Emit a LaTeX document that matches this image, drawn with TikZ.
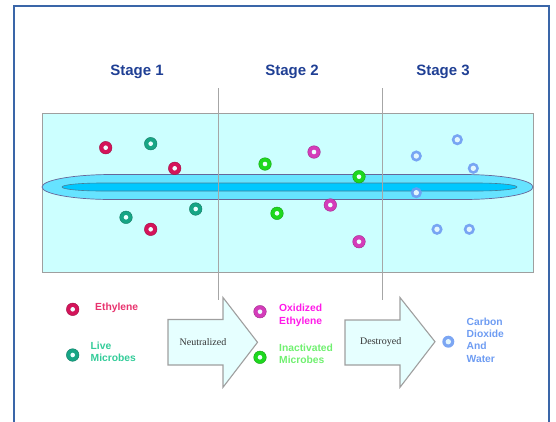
\documentclass[tikz,border=0pt]{standalone}
\usepackage{fontspec}
\setmainfont{Liberation Sans}
\newfontfamily\serifface{Liberation Serif}
\begin{document}
\begin{tikzpicture}[x=1pt,y=-1pt,
  ring/.style={circle,fill=#1,draw=#1!75!black,line width=0.4pt,minimum size=12.6pt,inner sep=0pt,
    path picture={\fill[holecol] (path picture bounding box.center) circle (2.3pt);}},
  bluering/.style={circle,fill=co2col,fill opacity=0.9,minimum size=11.2pt,inner sep=0pt,
    path picture={\fill[holecol] (path picture bounding box.center) circle (2.7pt);}},
  stagelabel/.style={font=\fontsize{15}{17}\selectfont\bfseries,text=stagecol,inner sep=0pt},
  legendtext/.style={font=\fontsize{10.3}{12.4}\selectfont\bfseries,align=left,anchor=west,inner sep=0pt},
  flowarrow/.style={fill=arrowfill,draw=gray!75,line width=1.1pt,line join=miter},
  arrowtext/.style={font=\serifface\fontsize{10}{12}\selectfont,text=black!80,inner sep=0pt},
  divider/.style={draw=gray!70,line width=0.7pt}]
\definecolor{stagecol}{HTML}{1F3F94}
\definecolor{framecol}{HTML}{3A66A8}
\definecolor{boxfill}{HTML}{CCFFFF}
\definecolor{holecol}{HTML}{EEFFFF}
\definecolor{pipeout}{HTML}{66E3FF}
\definecolor{pipein}{HTML}{00C8FF}
\definecolor{ethcol}{HTML}{D4145A}
\definecolor{ethtext}{HTML}{E8336E}
\definecolor{livecol}{HTML}{17A585}
\definecolor{livetext}{HTML}{33CC99}
\definecolor{oxcol}{HTML}{D43CBA}
\definecolor{oxtext}{HTML}{FF1AE8}
\definecolor{inactcol}{HTML}{1ED81E}
\definecolor{inacttext}{HTML}{70F070}
\definecolor{co2col}{HTML}{6E9CF2}
\definecolor{arrowfill}{HTML}{E6FFFF}

\useasboundingbox (0,0) rectangle (556,421);
\clip (0,0) rectangle (556,421);

% outer frame
\draw[framecol,line width=2pt] (14,6) rectangle (549,440);

% stage titles
\node[stagelabel] (s1) at (137,72) {Stage 1};
\node[stagelabel] (s2) at (292,72) {Stage 2};
\node[stagelabel] (s3) at (443,72) {Stage 3};

% chamber
\draw[fill=boxfill,draw=gray!75,line width=1pt] (42,113) rectangle (533,272);

% outer sleeve of the lamp
\draw[fill=pipeout,draw=gray!80!blue,line width=0.7pt]
  (42,187) .. controls (42,180.1) and (73.3,174.5) .. (112,174.5)
  -- (463,174.5) .. controls (501.7,174.5) and (533,180.1) .. (533,187)
  .. controls (533,193.9) and (501.7,199.5) .. (463,199.5)
  -- (112,199.5) .. controls (73.3,199.5) and (42,193.9) .. (42,187) -- cycle;
% inner core of the lamp
\draw[fill=pipein,draw=black!45!cyan,line width=0.6pt]
  (62,187) .. controls (62,184.8) and (79.9,183) .. (102,183)
  -- (477,183) .. controls (499.1,183) and (517,184.8) .. (517,187)
  .. controls (517,189.2) and (499.1,191) .. (477,191)
  -- (102,191) .. controls (79.9,191) and (62,189.2) .. (62,187) -- cycle;

% stage dividers
\coordinate (d1t) at (218,88);
\coordinate (d1b) at (218,300);
\coordinate (d2t) at (382,88);
\coordinate (d2b) at (382,300);
\draw[divider] (d1t) -- (d1b);
\draw[divider] (d2t) -- (d2b);

% stage 1: ethylene and live microbes
\node[ring=ethcol] (a1) at (105.7,147.7) {};
\node[ring=livecol] (a2) at (150.7,143.7) {};
\node[ring=ethcol] (a3) at (174.7,168.3) {};
\node[ring=livecol] (a4) at (126,217.3) {};
\node[ring=ethcol] (a5) at (150.7,229.3) {};
\node[ring=livecol] (a6) at (195.7,209) {};

% stage 2: oxidized ethylene and inactivated microbes
\node[ring=inactcol] (b1) at (265,164) {};
\node[ring=inactcol] (b2) at (277,213.3) {};
\node[ring=oxcol] (b3) at (314,152) {};
\node[ring=inactcol] (b4) at (359,176.7) {};
\node[ring=oxcol] (b5) at (330.3,205) {};
\node[ring=oxcol] (b6) at (359,241.7) {};

% stage 3: carbon dioxide and water
\node[bluering] (c1) at (416.3,156) {};
\node[bluering] (c2) at (457.3,139.7) {};
\node[bluering] (c3) at (473.3,168.3) {};
\node[bluering] (c4) at (416.3,192.7) {};
\node[bluering] (c5) at (437,229.3) {};
\node[bluering] (c6) at (469.3,229.3) {};

% legend
\node[ring=ethcol] (k1) at (72.7,309.3) {};
\node[legendtext,text=ethtext] (k1t) at (95,307.5) {Ethylene};
\node[ring=livecol] (k2) at (72.7,355) {};
\node[legendtext,text=livetext] (k2t) at (90.5,352) {Live\\Microbes};

\draw[flowarrow] (168,319.5) -- (223,319.5) -- (223,297.5) -- (257.5,342.3)
  -- (223,387.3) -- (223,365) -- (168,365) -- cycle;
\node[arrowtext] (n1) at (203,341.7) {Neutralized};

\node[ring=oxcol] (k3) at (260,311.7) {};
\node[legendtext,text=oxtext] (k3t) at (279,315.5) {Oxidized\\Ethylene};
\node[ring=inactcol] (k4) at (260,357.3) {};
\node[legendtext,text=inacttext] (k4t) at (279,354) {Inactivated\\Microbes};

\draw[flowarrow] (345,320) -- (400,320) -- (400,297.5) -- (435,341.7)
  -- (400,387.3) -- (400,365) -- (345,365) -- cycle;
\node[arrowtext] (n2) at (380.7,341.7) {Destroyed};

\node[bluering,minimum size=12pt] (k5) at (448.3,341.7) {};
\node[legendtext,text=co2col] (k5t) at (466.5,340) {Carbon\\Dioxide\\And\\Water};
\end{tikzpicture}
\end{document}
